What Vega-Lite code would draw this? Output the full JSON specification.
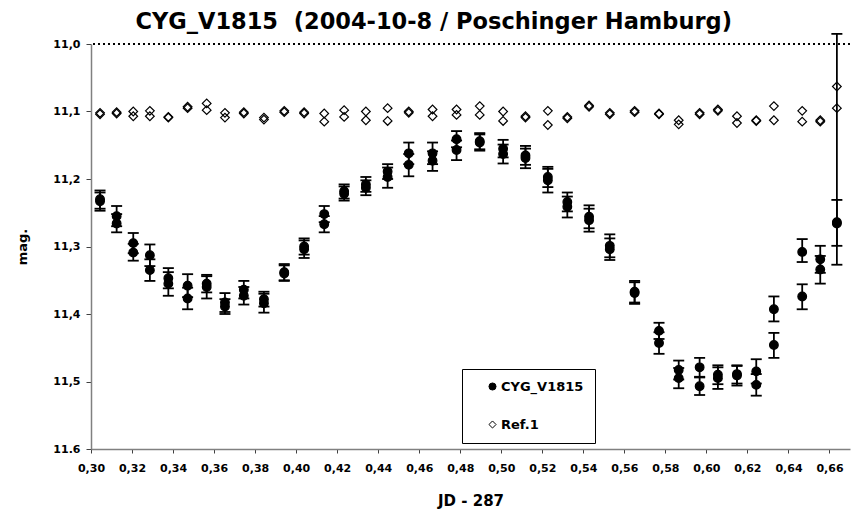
{
  "$schema": "https://vega.github.io/schema/vega-lite/v6.json",
  "width": 759,
  "height": 405,
  "autosize": {"type": "none"},
  "padding": {"left": 91, "top": 44, "right": 11, "bottom": 65},
  "background": "white",
  "title": {"text": "CYG_V1815\u00a0 (2004-10-8 / Poschinger Hamburg)", "font": "DejaVu Sans", "fontSize": 22.5, "fontWeight": "bold", "color": "black", "anchor": "middle", "frame": "bounds", "offset": -1},
  "config": {
    "view": {"stroke": null},
    "axis": {"labelFont": "DejaVu Sans", "labelFontWeight": "bold", "labelFontSize": 11, "labelColor": "black", "titleFont": "DejaVu Sans", "titleFontWeight": "bold", "titleColor": "black", "domainColor": "#808080", "domainWidth": 1.5, "tickColor": "#404040", "grid": false, "labelFlush": false, "labelOverlap": false},
    "axisX": {"tickSize": 4, "labelPadding": 9, "titleFontSize": 15, "titlePadding": 20},
    "axisY": {"tickSize": 5, "labelPadding": 6, "titleFontSize": 13, "titlePadding": 23},
    "legend": {"orient": "none", "legendX": 371, "legendY": 325, "strokeColor": "black", "fillColor": "white", "padding": 11, "rowPadding": 24, "symbolOffset": 13, "labelOffset": 2, "labelFont": "DejaVu Sans", "labelFontWeight": "bold", "labelFontSize": 13, "labelColor": "black", "symbolSize": 50, "symbolStrokeColor": "black", "symbolStrokeWidth": 1}
  },
  "data": {"values": [
    {"jd": 0.3044, "mag": 11.230, "lo": 11.217, "hi": 11.244, "series": "CYG_V1815"},
    {"jd": 0.3044, "mag": 11.233, "lo": 11.220, "hi": 11.247, "series": "CYG_V1815"},
    {"jd": 0.3125, "mag": 11.255, "lo": 11.240, "hi": 11.270, "series": "CYG_V1815"},
    {"jd": 0.3125, "mag": 11.266, "lo": 11.252, "hi": 11.279, "series": "CYG_V1815"},
    {"jd": 0.3206, "mag": 11.295, "lo": 11.280, "hi": 11.310, "series": "CYG_V1815"},
    {"jd": 0.3206, "mag": 11.309, "lo": 11.296, "hi": 11.321, "series": "CYG_V1815"},
    {"jd": 0.3287, "mag": 11.313, "lo": 11.297, "hi": 11.329, "series": "CYG_V1815"},
    {"jd": 0.3287, "mag": 11.335, "lo": 11.319, "hi": 11.351, "series": "CYG_V1815"},
    {"jd": 0.3377, "mag": 11.347, "lo": 11.332, "hi": 11.362, "series": "CYG_V1815"},
    {"jd": 0.3377, "mag": 11.355, "lo": 11.338, "hi": 11.373, "series": "CYG_V1815"},
    {"jd": 0.3471, "mag": 11.358, "lo": 11.341, "hi": 11.375, "series": "CYG_V1815"},
    {"jd": 0.3471, "mag": 11.377, "lo": 11.361, "hi": 11.393, "series": "CYG_V1815"},
    {"jd": 0.3564, "mag": 11.355, "lo": 11.342, "hi": 11.368, "series": "CYG_V1815"},
    {"jd": 0.3564, "mag": 11.360, "lo": 11.344, "hi": 11.377, "series": "CYG_V1815"},
    {"jd": 0.3653, "mag": 11.383, "lo": 11.369, "hi": 11.397, "series": "CYG_V1815"},
    {"jd": 0.3653, "mag": 11.389, "lo": 11.378, "hi": 11.400, "series": "CYG_V1815"},
    {"jd": 0.3745, "mag": 11.364, "lo": 11.351, "hi": 11.377, "series": "CYG_V1815"},
    {"jd": 0.3745, "mag": 11.373, "lo": 11.360, "hi": 11.386, "series": "CYG_V1815"},
    {"jd": 0.3843, "mag": 11.378, "lo": 11.367, "hi": 11.389, "series": "CYG_V1815"},
    {"jd": 0.3843, "mag": 11.384, "lo": 11.370, "hi": 11.398, "series": "CYG_V1815"},
    {"jd": 0.3942, "mag": 11.338, "lo": 11.326, "hi": 11.350, "series": "CYG_V1815"},
    {"jd": 0.3942, "mag": 11.340, "lo": 11.328, "hi": 11.351, "series": "CYG_V1815"},
    {"jd": 0.4039, "mag": 11.300, "lo": 11.288, "hi": 11.312, "series": "CYG_V1815"},
    {"jd": 0.4039, "mag": 11.304, "lo": 11.291, "hi": 11.317, "series": "CYG_V1815"},
    {"jd": 0.4137, "mag": 11.252, "lo": 11.240, "hi": 11.264, "series": "CYG_V1815"},
    {"jd": 0.4137, "mag": 11.267, "lo": 11.255, "hi": 11.279, "series": "CYG_V1815"},
    {"jd": 0.4234, "mag": 11.218, "lo": 11.208, "hi": 11.229, "series": "CYG_V1815"},
    {"jd": 0.4234, "mag": 11.222, "lo": 11.211, "hi": 11.232, "series": "CYG_V1815"},
    {"jd": 0.4340, "mag": 11.208, "lo": 11.197, "hi": 11.219, "series": "CYG_V1815"},
    {"jd": 0.4340, "mag": 11.213, "lo": 11.202, "hi": 11.224, "series": "CYG_V1815"},
    {"jd": 0.4446, "mag": 11.189, "lo": 11.178, "hi": 11.200, "series": "CYG_V1815"},
    {"jd": 0.4446, "mag": 11.197, "lo": 11.183, "hi": 11.213, "series": "CYG_V1815"},
    {"jd": 0.4549, "mag": 11.162, "lo": 11.146, "hi": 11.178, "series": "CYG_V1815"},
    {"jd": 0.4549, "mag": 11.179, "lo": 11.163, "hi": 11.196, "series": "CYG_V1815"},
    {"jd": 0.4665, "mag": 11.162, "lo": 11.146, "hi": 11.178, "series": "CYG_V1815"},
    {"jd": 0.4665, "mag": 11.173, "lo": 11.159, "hi": 11.188, "series": "CYG_V1815"},
    {"jd": 0.4782, "mag": 11.141, "lo": 11.129, "hi": 11.153, "series": "CYG_V1815"},
    {"jd": 0.4782, "mag": 11.157, "lo": 11.143, "hi": 11.172, "series": "CYG_V1815"},
    {"jd": 0.4895, "mag": 11.144, "lo": 11.132, "hi": 11.156, "series": "CYG_V1815"},
    {"jd": 0.4895, "mag": 11.146, "lo": 11.134, "hi": 11.158, "series": "CYG_V1815"},
    {"jd": 0.5009, "mag": 11.155, "lo": 11.142, "hi": 11.168, "series": "CYG_V1815"},
    {"jd": 0.5009, "mag": 11.163, "lo": 11.149, "hi": 11.177, "series": "CYG_V1815"},
    {"jd": 0.5118, "mag": 11.165, "lo": 11.151, "hi": 11.179, "series": "CYG_V1815"},
    {"jd": 0.5118, "mag": 11.169, "lo": 11.155, "hi": 11.184, "series": "CYG_V1815"},
    {"jd": 0.5227, "mag": 11.197, "lo": 11.182, "hi": 11.212, "series": "CYG_V1815"},
    {"jd": 0.5227, "mag": 11.202, "lo": 11.185, "hi": 11.220, "series": "CYG_V1815"},
    {"jd": 0.5322, "mag": 11.234, "lo": 11.220, "hi": 11.248, "series": "CYG_V1815"},
    {"jd": 0.5322, "mag": 11.241, "lo": 11.226, "hi": 11.257, "series": "CYG_V1815"},
    {"jd": 0.5428, "mag": 11.256, "lo": 11.239, "hi": 11.273, "series": "CYG_V1815"},
    {"jd": 0.5428, "mag": 11.261, "lo": 11.244, "hi": 11.278, "series": "CYG_V1815"},
    {"jd": 0.5529, "mag": 11.299, "lo": 11.282, "hi": 11.316, "series": "CYG_V1815"},
    {"jd": 0.5529, "mag": 11.304, "lo": 11.288, "hi": 11.320, "series": "CYG_V1815"},
    {"jd": 0.5650, "mag": 11.367, "lo": 11.351, "hi": 11.383, "series": "CYG_V1815"},
    {"jd": 0.5650, "mag": 11.369, "lo": 11.353, "hi": 11.385, "series": "CYG_V1815"},
    {"jd": 0.5769, "mag": 11.425, "lo": 11.413, "hi": 11.437, "series": "CYG_V1815"},
    {"jd": 0.5769, "mag": 11.443, "lo": 11.427, "hi": 11.459, "series": "CYG_V1815"},
    {"jd": 0.5865, "mag": 11.483, "lo": 11.469, "hi": 11.497, "series": "CYG_V1815"},
    {"jd": 0.5865, "mag": 11.495, "lo": 11.480, "hi": 11.510, "series": "CYG_V1815"},
    {"jd": 0.5967, "mag": 11.479, "lo": 11.465, "hi": 11.493, "series": "CYG_V1815"},
    {"jd": 0.5967, "mag": 11.507, "lo": 11.494, "hi": 11.520, "series": "CYG_V1815"},
    {"jd": 0.6056, "mag": 11.490, "lo": 11.476, "hi": 11.504, "series": "CYG_V1815"},
    {"jd": 0.6056, "mag": 11.495, "lo": 11.479, "hi": 11.511, "series": "CYG_V1815"},
    {"jd": 0.6149, "mag": 11.489, "lo": 11.476, "hi": 11.503, "series": "CYG_V1815"},
    {"jd": 0.6149, "mag": 11.491, "lo": 11.477, "hi": 11.506, "series": "CYG_V1815"},
    {"jd": 0.6243, "mag": 11.485, "lo": 11.467, "hi": 11.503, "series": "CYG_V1815"},
    {"jd": 0.6243, "mag": 11.505, "lo": 11.489, "hi": 11.521, "series": "CYG_V1815"},
    {"jd": 0.6329, "mag": 11.393, "lo": 11.374, "hi": 11.411, "series": "CYG_V1815"},
    {"jd": 0.6329, "mag": 11.446, "lo": 11.428, "hi": 11.465, "series": "CYG_V1815"},
    {"jd": 0.6467, "mag": 11.308, "lo": 11.289, "hi": 11.323, "series": "CYG_V1815"},
    {"jd": 0.6467, "mag": 11.374, "lo": 11.356, "hi": 11.393, "series": "CYG_V1815"},
    {"jd": 0.6555, "mag": 11.319, "lo": 11.299, "hi": 11.339, "series": "CYG_V1815"},
    {"jd": 0.6555, "mag": 11.334, "lo": 11.314, "hi": 11.355, "series": "CYG_V1815"},
    {"jd": 0.6636, "mag": 11.264, "lo": 11.231, "hi": 11.299, "series": "CYG_V1815"},
    {"jd": 0.6636, "mag": 11.266, "lo": 10.985, "hi": 11.327, "series": "CYG_V1815"},
    {"jd": 0.3044, "mag": 11.102, "series": "Ref.1"},
    {"jd": 0.3044, "mag": 11.104, "series": "Ref.1"},
    {"jd": 0.3125, "mag": 11.101, "series": "Ref.1"},
    {"jd": 0.3125, "mag": 11.103, "series": "Ref.1"},
    {"jd": 0.3206, "mag": 11.100, "series": "Ref.1"},
    {"jd": 0.3206, "mag": 11.107, "series": "Ref.1"},
    {"jd": 0.3287, "mag": 11.099, "series": "Ref.1"},
    {"jd": 0.3287, "mag": 11.107, "series": "Ref.1"},
    {"jd": 0.3377, "mag": 11.108, "series": "Ref.1"},
    {"jd": 0.3377, "mag": 11.109, "series": "Ref.1"},
    {"jd": 0.3471, "mag": 11.093, "series": "Ref.1"},
    {"jd": 0.3471, "mag": 11.095, "series": "Ref.1"},
    {"jd": 0.3564, "mag": 11.088, "series": "Ref.1"},
    {"jd": 0.3564, "mag": 11.098, "series": "Ref.1"},
    {"jd": 0.3653, "mag": 11.102, "series": "Ref.1"},
    {"jd": 0.3653, "mag": 11.109, "series": "Ref.1"},
    {"jd": 0.3745, "mag": 11.101, "series": "Ref.1"},
    {"jd": 0.3745, "mag": 11.103, "series": "Ref.1"},
    {"jd": 0.3843, "mag": 11.109, "series": "Ref.1"},
    {"jd": 0.3843, "mag": 11.112, "series": "Ref.1"},
    {"jd": 0.3942, "mag": 11.099, "series": "Ref.1"},
    {"jd": 0.3942, "mag": 11.101, "series": "Ref.1"},
    {"jd": 0.4039, "mag": 11.101, "series": "Ref.1"},
    {"jd": 0.4039, "mag": 11.103, "series": "Ref.1"},
    {"jd": 0.4137, "mag": 11.103, "series": "Ref.1"},
    {"jd": 0.4137, "mag": 11.115, "series": "Ref.1"},
    {"jd": 0.4234, "mag": 11.098, "series": "Ref.1"},
    {"jd": 0.4234, "mag": 11.108, "series": "Ref.1"},
    {"jd": 0.4340, "mag": 11.100, "series": "Ref.1"},
    {"jd": 0.4340, "mag": 11.113, "series": "Ref.1"},
    {"jd": 0.4446, "mag": 11.095, "series": "Ref.1"},
    {"jd": 0.4446, "mag": 11.114, "series": "Ref.1"},
    {"jd": 0.4549, "mag": 11.100, "series": "Ref.1"},
    {"jd": 0.4549, "mag": 11.102, "series": "Ref.1"},
    {"jd": 0.4665, "mag": 11.097, "series": "Ref.1"},
    {"jd": 0.4665, "mag": 11.107, "series": "Ref.1"},
    {"jd": 0.4782, "mag": 11.097, "series": "Ref.1"},
    {"jd": 0.4782, "mag": 11.105, "series": "Ref.1"},
    {"jd": 0.4895, "mag": 11.092, "series": "Ref.1"},
    {"jd": 0.4895, "mag": 11.105, "series": "Ref.1"},
    {"jd": 0.5009, "mag": 11.100, "series": "Ref.1"},
    {"jd": 0.5009, "mag": 11.114, "series": "Ref.1"},
    {"jd": 0.5118, "mag": 11.107, "series": "Ref.1"},
    {"jd": 0.5118, "mag": 11.109, "series": "Ref.1"},
    {"jd": 0.5227, "mag": 11.099, "series": "Ref.1"},
    {"jd": 0.5227, "mag": 11.120, "series": "Ref.1"},
    {"jd": 0.5322, "mag": 11.108, "series": "Ref.1"},
    {"jd": 0.5322, "mag": 11.110, "series": "Ref.1"},
    {"jd": 0.5428, "mag": 11.091, "series": "Ref.1"},
    {"jd": 0.5428, "mag": 11.093, "series": "Ref.1"},
    {"jd": 0.5529, "mag": 11.102, "series": "Ref.1"},
    {"jd": 0.5529, "mag": 11.104, "series": "Ref.1"},
    {"jd": 0.5650, "mag": 11.099, "series": "Ref.1"},
    {"jd": 0.5650, "mag": 11.101, "series": "Ref.1"},
    {"jd": 0.5769, "mag": 11.103, "series": "Ref.1"},
    {"jd": 0.5769, "mag": 11.104, "series": "Ref.1"},
    {"jd": 0.5865, "mag": 11.113, "series": "Ref.1"},
    {"jd": 0.5865, "mag": 11.119, "series": "Ref.1"},
    {"jd": 0.5967, "mag": 11.102, "series": "Ref.1"},
    {"jd": 0.5967, "mag": 11.104, "series": "Ref.1"},
    {"jd": 0.6056, "mag": 11.097, "series": "Ref.1"},
    {"jd": 0.6056, "mag": 11.099, "series": "Ref.1"},
    {"jd": 0.6149, "mag": 11.107, "series": "Ref.1"},
    {"jd": 0.6149, "mag": 11.117, "series": "Ref.1"},
    {"jd": 0.6243, "mag": 11.113, "series": "Ref.1"},
    {"jd": 0.6243, "mag": 11.114, "series": "Ref.1"},
    {"jd": 0.6329, "mag": 11.092, "series": "Ref.1"},
    {"jd": 0.6329, "mag": 11.113, "series": "Ref.1"},
    {"jd": 0.6467, "mag": 11.099, "series": "Ref.1"},
    {"jd": 0.6467, "mag": 11.115, "series": "Ref.1"},
    {"jd": 0.6555, "mag": 11.113, "series": "Ref.1"},
    {"jd": 0.6555, "mag": 11.115, "series": "Ref.1"},
    {"jd": 0.6636, "mag": 11.063, "series": "Ref.1"},
    {"jd": 0.6636, "mag": 11.095, "series": "Ref.1"}
  ]},
  "layer": [
    {
      "mark": {"type": "rule", "strokeDash": [2, 3], "color": "black", "strokeWidth": 1},
      "encoding": {"y": {"datum": 11.0, "type": "quantitative", "title": "mag."}}
    },
    {
      "transform": [{"filter": "datum.series == 'CYG_V1815'"}],
      "mark": {"type": "rule", "color": "black", "strokeWidth": 1.8},
      "encoding": {
        "x": {"field": "jd", "type": "quantitative", "title": "JD - 287"},
        "y": {"field": "lo", "type": "quantitative", "title": "mag."},
        "y2": {"field": "hi"}
      }
    },
    {
      "transform": [{"filter": "datum.series == 'CYG_V1815'"}],
      "mark": {"type": "tick", "orient": "horizontal", "size": 11, "thickness": 1.8, "color": "black", "opacity": 1},
      "encoding": {
        "x": {"field": "jd", "type": "quantitative", "title": "JD - 287"},
        "y": {"field": "lo", "type": "quantitative", "title": "mag."}
      }
    },
    {
      "transform": [{"filter": "datum.series == 'CYG_V1815'"}],
      "mark": {"type": "tick", "orient": "horizontal", "size": 11, "thickness": 1.8, "color": "black", "opacity": 1},
      "encoding": {
        "x": {"field": "jd", "type": "quantitative", "title": "JD - 287"},
        "y": {"field": "hi", "type": "quantitative", "title": "mag."}
      }
    },
    {
      "mark": {"type": "point", "filled": true, "strokeWidth": 1.2, "size": 75, "opacity": 1},
      "encoding": {
        "x": {
          "field": "jd", "type": "quantitative", "title": "JD - 287",
          "scale": {"domain": [0.30, 0.67], "nice": false, "zero": false},
          "axis": {"values": [0.30, 0.32, 0.34, 0.36, 0.38, 0.40, 0.42, 0.44, 0.46, 0.48, 0.50, 0.52, 0.54, 0.56, 0.58, 0.60, 0.62, 0.64, 0.66], "labelExpr": "replace(format(datum.value, '.2f'), '.', ',')"}
        },
        "y": {
          "field": "mag", "type": "quantitative", "title": "mag.",
          "scale": {"domain": [11.0, 11.6], "reverse": true, "nice": false, "zero": false},
          "axis": {"values": [11.0, 11.1, 11.2, 11.3, 11.4, 11.5, 11.6], "labelExpr": "datum.value > 11.55 ? '11.6' : replace(format(datum.value, '.1f'), '.', ',')"}
        },
        "shape": {
          "field": "series", "type": "nominal",
          "scale": {"domain": ["CYG_V1815", "Ref.1"], "range": ["circle", "diamond"]},
          "legend": {"title": null}
        },
        "fill": {
          "field": "series", "type": "nominal",
          "scale": {"domain": ["CYG_V1815", "Ref.1"], "range": ["black", "transparent"]},
          "legend": {"title": null}
        },
        "stroke": {
          "field": "series", "type": "nominal",
          "scale": {"domain": ["CYG_V1815", "Ref.1"], "range": ["black", "black"]},
          "legend": {"title": null}
        }
      }
    }
  ]
}
